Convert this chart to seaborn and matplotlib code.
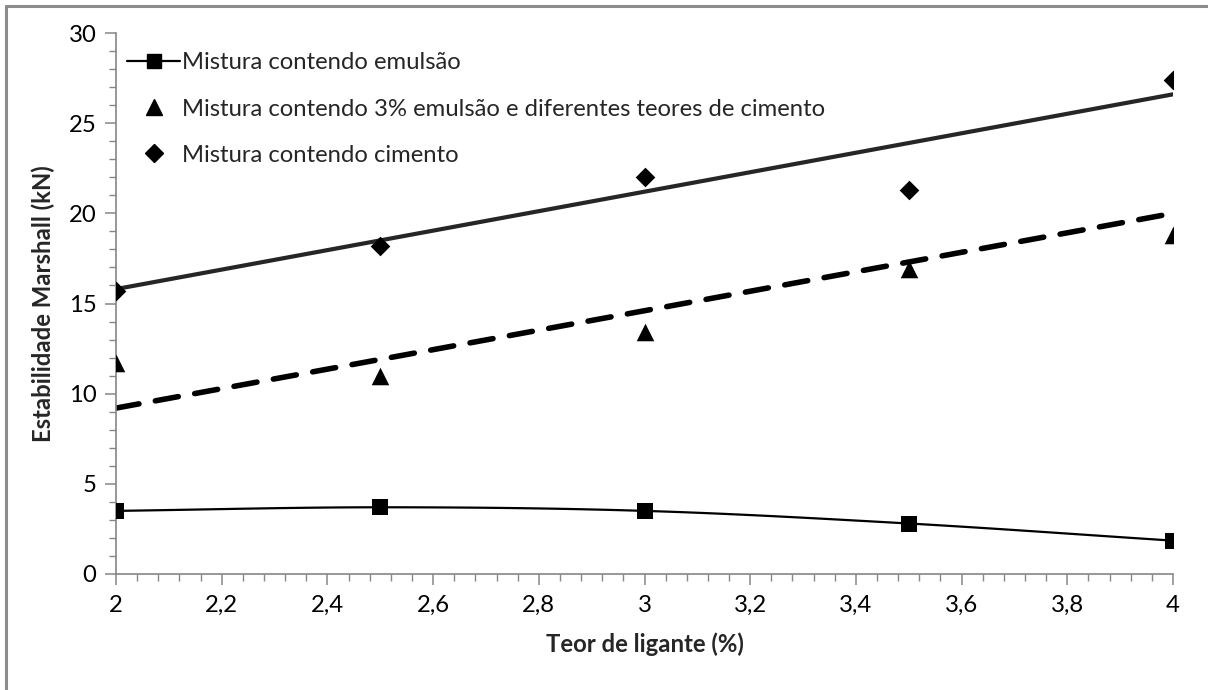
import numpy as np
import pandas as pd
import matplotlib
matplotlib.use("Agg")
import matplotlib.pyplot as plt
from matplotlib.lines import Line2D
from matplotlib.ticker import MultipleLocator, FuncFormatter
import seaborn as sns

# Binder content (%)
teor = [2.0, 2.5, 3.0, 3.5, 4.0]

# Marshall stability (kN) for each mixture
emulsao = [3.5, 3.7, 3.5, 2.8, 1.85]
emulsao_cimento = [11.7, 11.0, 13.4, 16.9, 18.8]
cimento = [15.7, 18.2, 22.0, 21.3, 27.4]

# Linear trend lines (values at the ends of the binder range)
trend_x = [2.0, 4.0]
trend_emulsao_cimento = [9.2, 20.0]
trend_cimento = [15.8, 26.6]

labels = [
    "Mistura contendo emulsão",
    "Mistura contendo 3% emulsão e diferentes teores de cimento",
    "Mistura contendo cimento",
]

sns.set_theme(style="white")
plt.rcParams["font.family"] = ["Lato", "DejaVu Sans"]

W, H = 1208, 690
FS = 17.2
fig = plt.figure(figsize=(W / 100, H / 100), dpi=100)
ax = fig.add_axes([116 / W, (H - 574) / H, (1173 - 116) / W, (574 - 33) / H])

AXC = "#868686"


def smooth_curve(x, y, n=30):
    """Catmull-Rom spline through the points, for a smoothed line."""
    x = np.asarray(x, float)
    y = np.asarray(y, float)
    px = np.concatenate([[2 * x[0] - x[1]], x, [2 * x[-1] - x[-2]]])
    py = np.concatenate([[2 * y[0] - y[1]], y, [2 * y[-1] - y[-2]]])
    xs, ys = [], []
    t = np.linspace(0, 1, n)
    for i in range(1, len(px) - 2):
        for p, out in ((px, xs), (py, ys)):
            p0, p1, p2, p3 = p[i - 1], p[i], p[i + 1], p[i + 2]
            out.extend(0.5 * ((2 * p1) + (-p0 + p2) * t
                              + (2 * p0 - 5 * p1 + 4 * p2 - p3) * t ** 2
                              + (-p0 + 3 * p1 - 3 * p2 + p3) * t ** 3))
    return np.array(xs), np.array(ys)


sx, sy = smooth_curve(teor, emulsao)
sns.lineplot(x=sx, y=sy, ax=ax, color="black", linewidth=1.6, sort=False,
             estimator=None)
sns.lineplot(x=trend_x, y=trend_cimento, ax=ax, color="#262626",
             linewidth=3.0, estimator=None)
sns.lineplot(x=trend_x, y=trend_emulsao_cimento, ax=ax, color="black",
             linewidth=4.0, estimator=None)
ax.lines[-1].set_dashes([4.2, 3.0])
ax.lines[-1].set_dash_capstyle("round")

sns.scatterplot(x=teor, y=emulsao, ax=ax, marker="s", s=120, color="black",
                edgecolor="black", linewidth=0, zorder=5)
sns.scatterplot(x=teor, y=emulsao_cimento, ax=ax, marker="^", s=160,
                color="black", edgecolor="black", linewidth=0, zorder=5)
sns.scatterplot(x=teor, y=cimento, ax=ax, marker="D", s=100, color="black",
                edgecolor="black", linewidth=0, zorder=5)

ax.set_xlim(2, 4)
ax.set_ylim(0, 30)
ax.xaxis.set_major_locator(MultipleLocator(0.2))
ax.xaxis.set_minor_locator(MultipleLocator(0.04))
ax.yaxis.set_major_locator(MultipleLocator(5))
ax.yaxis.set_minor_locator(MultipleLocator(1))
ax.xaxis.set_major_formatter(FuncFormatter(
    lambda v, p: ("%g" % round(v, 2)).replace(".", ",")))

for side in ("top", "right"):
    ax.spines[side].set_visible(False)
for side in ("left", "bottom"):
    ax.spines[side].set_color(AXC)
    ax.spines[side].set_linewidth(1.2)

ax.tick_params(axis="both", which="major", direction="out", length=8,
               width=1.1, color=AXC, labelsize=FS, labelcolor="black",
               bottom=True, left=True)
ax.tick_params(axis="both", which="minor", direction="out", length=5,
               width=1.0, color=AXC, bottom=True, left=True)
ax.tick_params(axis="x", which="major", pad=7)
ax.tick_params(axis="y", which="major", pad=6)

ax.set_xlabel("Teor de ligante (%)", fontsize=FS, fontweight="bold",
              labelpad=12)
ax.set_ylabel("Estabilidade Marshall (kN)", fontsize=FS, fontweight="bold",
              labelpad=10)

handles = [
    Line2D([0], [0], color="black", linewidth=1.6, marker="s", markersize=10),
    Line2D([0], [0], color="black", linestyle="none", marker="^",
           markersize=12),
    Line2D([0], [0], color="black", linestyle="none", marker="D",
           markersize=9),
]
leg = ax.legend(handles, labels, loc="upper left",
                bbox_to_anchor=(-0.005, 0.995), frameon=False, fontsize=FS,
                handlelength=2.2, handletextpad=0.1, labelspacing=1.05,
                borderaxespad=0.3)

# Outer chart frame (left and top edges)
fig.add_artist(Line2D([6 / W, 6 / W], [0, (H - 6) / H],
                      transform=fig.transFigure, color="#8c8c8c",
                      linewidth=2.2))
fig.add_artist(Line2D([6 / W, 1], [(H - 6) / H, (H - 6) / H],
                      transform=fig.transFigure, color="#8c8c8c",
                      linewidth=2.2))

fig.savefig("out.png", dpi=100, facecolor="white")
